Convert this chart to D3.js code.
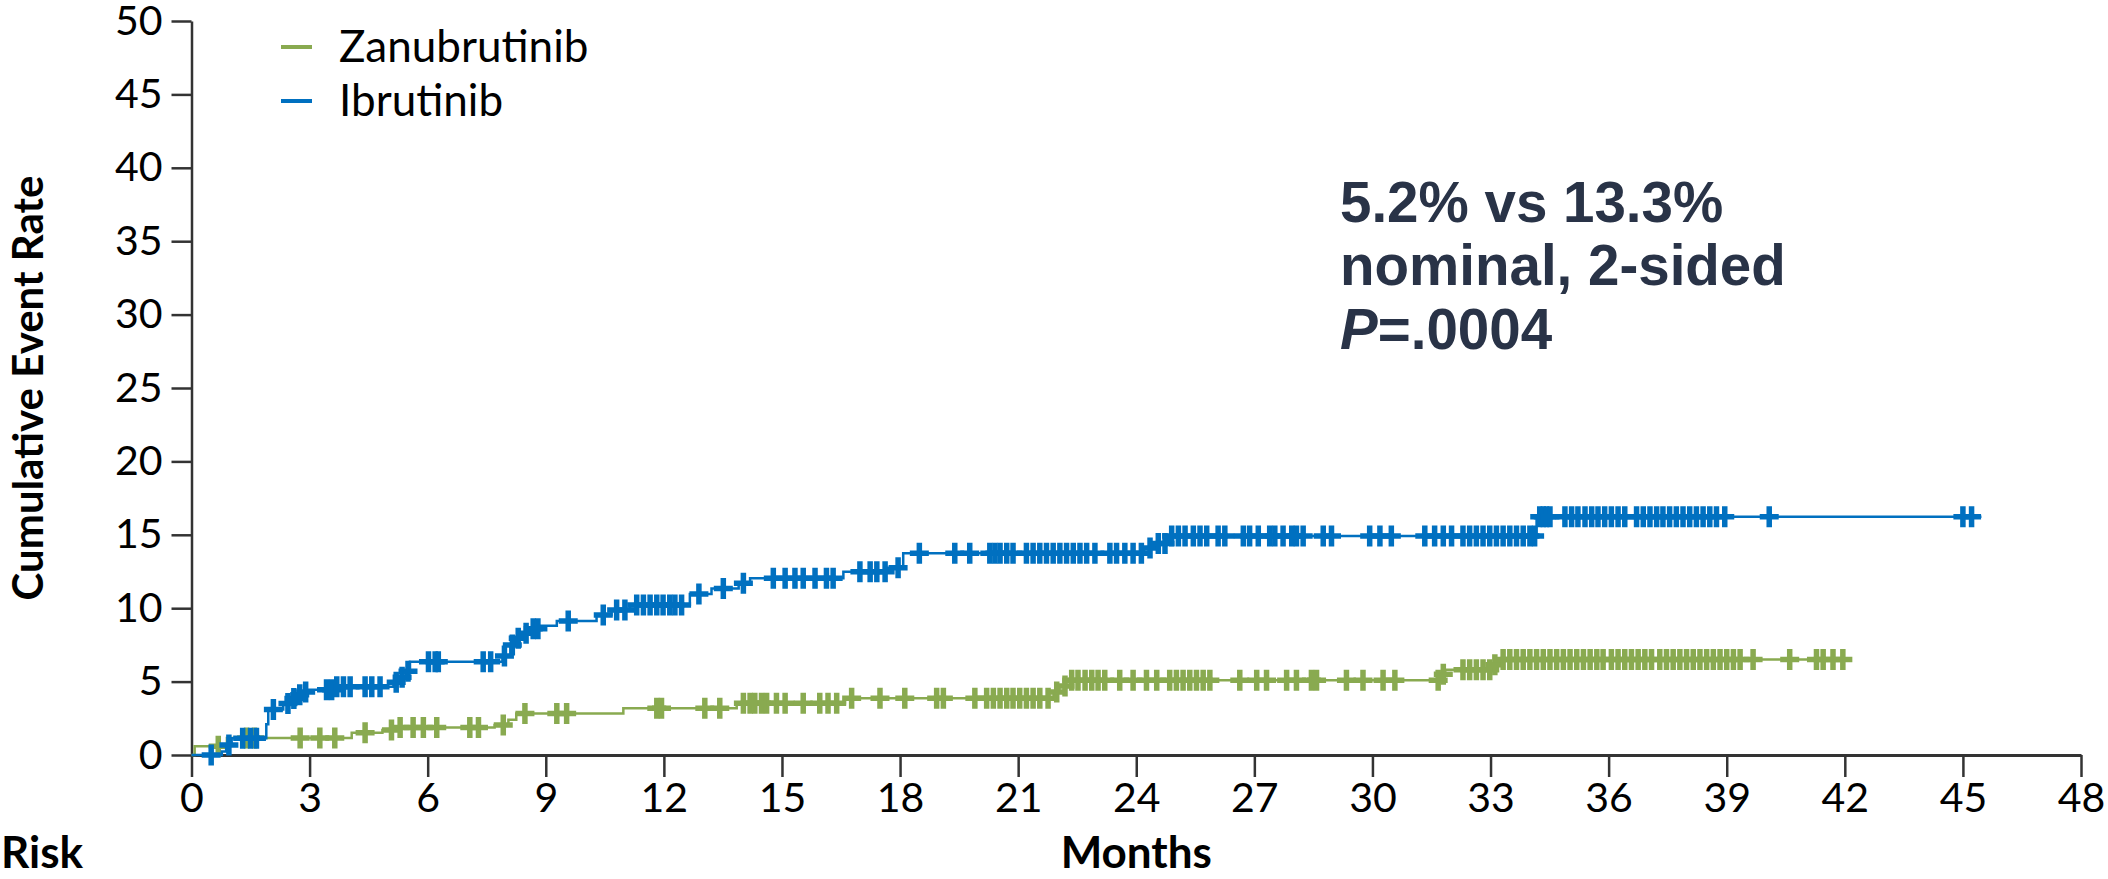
<!DOCTYPE html>
<html>
<head>
<meta charset="utf-8">
<script src="https://cdn.jsdelivr.net/npm/d3@7"></script>
<style>
  html, body { margin: 0; padding: 0; background: #fff; }
  svg { display: block; }
</style>
</head>
<body>
<svg id="chart" width="2108" height="879"></svg>
<script>
// Cumulative event rate (%) by month — step points [month, rate]
const zanuSteps = [[0,0],[0.08,0.6],[0.9,1.15],[4.07,1.52],[4.85,1.7],[5.2,1.88],[7.7,2.05],[8.05,2.4],[8.25,2.82],[10.97,3.18],[13.85,3.52],[16.6,3.86],[21.9,4.3],[22.05,4.7],[22.2,5.1],[31.7,5.5],[31.85,5.8],[33.05,6.15],[33.25,6.5]];
const zanuEnd = 41.95;
const zanuCensor = [0.68,1.4,1.6,2.76,3.26,3.64,4.41,5.08,5.3,5.63,5.89,6.23,7.07,7.29,7.92,8.47,9.28,9.53,11.82,11.94,13.04,13.42,14.02,14.19,14.31,14.48,14.61,14.86,15.08,15.54,15.96,16.17,16.39,16.77,17.49,18.12,18.93,19.1,19.9,20.2,20.37,20.54,20.71,20.87,21.04,21.21,21.38,21.55,21.76,21.98,22.19,22.36,22.52,22.7,22.87,23.03,23.2,23.58,23.92,24.26,24.52,24.85,25.02,25.19,25.36,25.53,25.7,25.87,26.63,27.06,27.31,27.82,28.07,28.45,28.58,29.34,29.76,30.27,30.57,31.67,31.8,32.3,32.47,32.64,32.81,32.98,33.11,33.32,33.49,33.66,33.83,34.0,34.17,34.34,34.51,34.68,34.85,35.02,35.19,35.36,35.53,35.7,35.86,36.07,36.24,36.41,36.58,36.75,36.92,37.09,37.3,37.47,37.64,37.81,37.98,38.15,38.32,38.49,38.66,38.83,39.0,39.17,39.34,39.67,40.6,41.28,41.45,41.7,41.95];

const ibruSteps = [[0,0],[0.77,0.23],[0.88,0.68],[1.02,1.14],[1.9,2.1],[1.95,3.1],[2.33,3.5],[2.55,3.85],[2.7,4.1],[2.85,4.3],[2.95,4.45],[3.6,4.65],[5.13,4.95],[5.3,5.3],[5.45,5.7],[5.55,6.35],[7.9,6.75],[8.1,7.5],[8.25,7.95],[8.45,8.3],[8.65,8.6],[8.85,8.8],[9.28,9.13],[10.29,9.54],[10.67,9.88],[11.14,10.22],[12.66,10.97],[13.21,11.35],[13.9,11.7],[14.19,12.04],[16.56,12.49],[17.7,12.75],[18.08,13.74],[24.2,14.1],[24.5,14.4],[24.8,14.92],[34.17,16.23]];
const ibruEnd = 45.47;
const ibruCensor = [0.5,0.95,1.3,1.5,1.65,2.08,2.45,2.6,2.75,2.9,3.43,3.56,3.69,3.86,4.03,4.41,4.58,4.79,5.2,5.35,5.5,6.02,6.19,6.27,7.41,7.6,7.95,8.15,8.3,8.5,8.68,8.8,9.57,10.46,10.8,11.01,11.31,11.48,11.65,11.82,11.98,12.15,12.28,12.45,12.89,13.51,14.02,14.78,15.08,15.33,15.54,15.84,16.13,16.3,16.98,17.24,17.41,17.62,17.95,18.49,19.39,19.77,20.28,20.41,20.54,20.71,20.87,21.21,21.38,21.55,21.72,21.89,22.06,22.23,22.4,22.57,22.74,22.95,23.33,23.5,23.71,23.92,24.13,24.35,24.56,24.73,24.9,25.07,25.24,25.45,25.62,25.79,26.08,26.25,26.72,26.88,27.1,27.39,27.52,27.73,27.95,28.07,28.24,28.75,28.96,29.93,30.19,30.48,31.33,31.58,31.8,32.01,32.3,32.47,32.64,32.81,32.98,33.15,33.32,33.49,33.66,33.83,34.0,34.12,34.25,34.34,34.42,34.51,34.89,35.06,35.22,35.4,35.57,35.73,35.9,36.07,36.24,36.41,36.71,36.88,37.05,37.22,37.38,37.55,37.72,37.89,38.06,38.23,38.4,38.57,38.74,38.95,40.08,45.0,45.22];

const seriesNames = ["Zanubrutinib", "Ibrutinib"];
const seriesColors = ["#89aa50", "#0070c0"];
const xTicks = [0,3,6,9,12,15,18,21,24,27,30,33,36,39,42,45,48];
const yTicks = [0,5,10,15,20,25,30,35,40,45,50];
const statLines = ["5.2% vs 13.3%", "nominal, 2-sided", ".0004"];

const svg = d3.select("#chart");
const plotLeft = 191.5, plotRight = 2081, plotTop = 21, plotBottom = 755;

const x = d3.scaleLinear().domain([0, 48]).range([plotLeft, plotRight]);
const y = d3.scaleLinear().domain([0, 50]).range([plotBottom, plotTop]);

const tickFont = "Lato, 'Noto Sans', sans-serif";

// Y axis
const yAxis = svg.append("g")
  .attr("transform", `translate(${plotLeft},0)`)
  .call(d3.axisLeft(y).tickValues(yTicks).tickSize(20).tickPadding(9).tickSizeOuter(0));
yAxis.select(".domain").attr("stroke", "#333").attr("stroke-width", 2.5);
yAxis.selectAll(".tick line").attr("stroke", "#333").attr("stroke-width", 2.5);
yAxis.selectAll(".tick text").attr("font-family", tickFont).attr("font-size", 41).attr("fill", "#000");

// X axis
const xAxis = svg.append("g")
  .attr("transform", `translate(0,${plotBottom})`)
  .call(d3.axisBottom(x).tickValues(xTicks).tickSize(22).tickPadding(6).tickSizeOuter(0));
xAxis.select(".domain").attr("stroke", "#333").attr("stroke-width", 3);
xAxis.selectAll(".tick line").attr("stroke", "#333").attr("stroke-width", 2.5);
xAxis.selectAll(".tick text").attr("font-family", tickFont).attr("font-size", 41).attr("fill", "#000");

// Axis titles
svg.append("text")
  .attr("transform", `translate(43,${(plotTop + plotBottom) / 2}) rotate(-90)`)
  .attr("text-anchor", "middle")
  .attr("font-family", tickFont).attr("font-weight", 700).attr("font-size", 42)
  .text("Cumulative Event Rate");
svg.append("text")
  .attr("x", (plotLeft + plotRight) / 2).attr("y", 868)
  .attr("text-anchor", "middle")
  .attr("font-family", tickFont).attr("font-weight", 700).attr("font-size", 44)
  .text("Months");
svg.append("text")
  .attr("x", 1).attr("y", 868)
  .attr("font-family", tickFont).attr("font-weight", 700).attr("font-size", 44)
  .text("Risk");

// Curves
const stepLine = d3.line().x(d => x(d[0])).y(d => y(d[1])).curve(d3.curveStepAfter);
const bis = d3.bisector(d => d[0]).right;
const valueAt = (steps, t) => steps[Math.max(0, bis(steps, t) - 1)][1];

const arms = [
  { steps: zanuSteps, end: zanuEnd, censor: zanuCensor, color: seriesColors[0] },
  { steps: ibruSteps, end: ibruEnd, censor: ibruCensor, color: seriesColors[1] }
];

arms.forEach(a => {
  const pts = a.steps.concat([[a.end, a.steps[a.steps.length - 1][1]]]);
  svg.append("path")
    .attr("d", stepLine(pts))
    .attr("fill", "none")
    .attr("stroke", a.color)
    .attr("stroke-width", 2.5);
  svg.append("g").selectAll("path")
    .data(a.censor)
    .join("path")
    .attr("transform", t => `translate(${x(t)},${y(valueAt(a.steps, t))})`)
    .attr("d", "M-9.5,0H9.5M0,-10.5V10.5")
    .attr("stroke", a.color)
    .attr("stroke-width", 5.5)
    .attr("fill", "none");
});

// Legend
const legend = svg.append("g");
seriesNames.forEach((name, i) => {
  const ly = 47 + i * 54;
  legend.append("line")
    .attr("x1", 281).attr("x2", 312).attr("y1", ly).attr("y2", ly)
    .attr("stroke", seriesColors[i]).attr("stroke-width", 4);
  legend.append("text")
    .attr("x", 339).attr("y", ly).attr("dy", "0.35em")
    .attr("font-family", tickFont).attr("font-size", 44)
    .text(name);
});

// Statistics annotation
const stat = svg.append("g")
  .attr("font-family", "'Liberation Sans', Arial, sans-serif")
  .attr("font-weight", 700).attr("font-size", 56.5).attr("fill", "#293347");
stat.append("text").attr("x", 1340).attr("y", 222).text(statLines[0]);
stat.append("text").attr("x", 1340).attr("y", 285).text(statLines[1]);
const p = stat.append("text").attr("x", 1340).attr("y", 349);
p.append("tspan").attr("font-style", "italic").text("P");
p.append("tspan").text("=" + statLines[2]);
</script>
</body>
</html>
